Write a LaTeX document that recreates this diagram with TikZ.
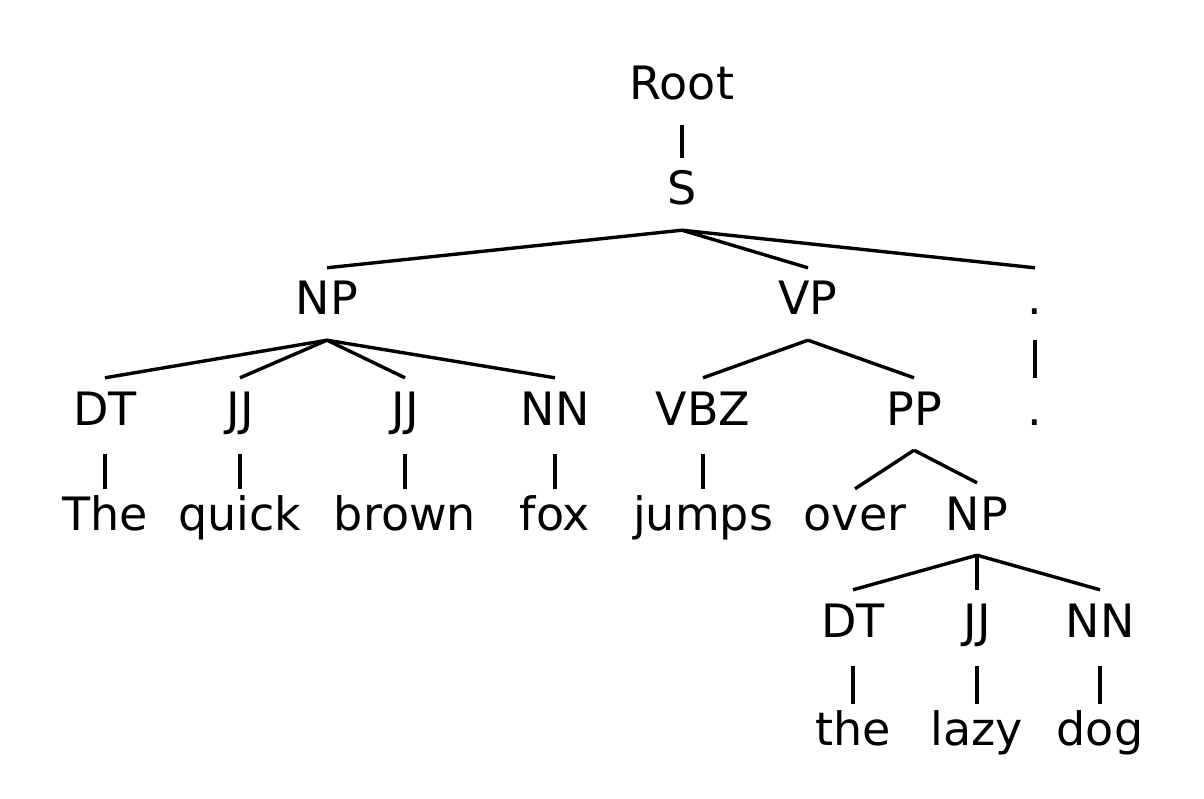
\documentclass[tikz,border=0pt]{standalone}
\usepackage{fontspec}
\setmainfont{DejaVu Sans}
\begin{document}
\begin{tikzpicture}[x=1pt,y=-1pt,
  lbl/.style={font=\fontsize{46}{55}\selectfont, anchor=base, inner xsep=0pt,
    text height=33pt, text depth=11pt, inner ysep=14pt},
  cat/.style={lbl},
  word/.style={lbl, inner ysep=8pt},
  edge/.style={line width=3.4pt},
  bar/.style={line width=3.4pt, shorten <=4pt}]
\fill[white] (0,0) rectangle (1204,799);
\useasboundingbox (0,0) rectangle (1204,799);
% nodes
\node[cat] (root) at (682,100) {Root};
\node[cat] (S) at (682,205) {S};
\node[cat] (NP) at (327,315) {NP};
\node[cat] (VP) at (808,315) {VP};
\node[cat] (dot1) at (1035,315) {.};
\node[cat] (DT) at (105,425) {DT};
\node[cat] (JJa) at (240,425) {JJ};
\node[cat] (JJb) at (405,425) {JJ};
\node[cat] (NN) at (555,425) {NN};
\node[cat] (VBZ) at (703,425) {VBZ};
\node[cat] (PP) at (914,425) {PP};
\node[cat] (dot2) at (1035,425) {.};
\node[word] (w1) at (105,530) {The};
\node[word] (w2) at (240,530) {quick};
\node[word] (w3) at (405,530) {brown};
\node[word] (w4) at (555,530) {fox};
\node[word] (w5) at (703,530) {jumps};
\node[word] (w6) at (855,530) {over};
\node[cat] (NP2) at (977,530) {NP};
\node[cat] (DT2) at (853,637) {DT};
\node[cat] (JJ2) at (977,637) {JJ};
\node[cat] (NN2) at (1100,637) {NN};
\node[word] (w7) at (853,745) {the};
\node[word] (w8) at (977,745) {lazy};
\node[word] (w9) at (1100,745) {dog};
% connectors
\draw[edge] (root.south) -- (S.north);
\draw[edge] (S.south) -- (NP.north);
\draw[edge] (S.south) -- (VP.north);
\draw[edge] (S.south) -- (dot1.north);
\draw[edge] (dot1.south) -- (dot2.north);
\draw[edge] (NP.south) -- (DT.north);
\draw[edge] (NP.south) -- (JJa.north);
\draw[edge] (NP.south) -- (JJb.north);
\draw[edge] (NP.south) -- (NN.north);
\draw[edge] (VP.south) -- (VBZ.north);
\draw[edge] (VP.south) -- (PP.north);
\draw[bar] (DT.south) -- (w1.north);
\draw[bar] (JJa.south) -- (w2.north);
\draw[bar] (JJb.south) -- (w3.north);
\draw[bar] (NN.south) -- (w4.north);
\draw[bar] (VBZ.south) -- (w5.north);
\draw[edge] (PP.south) -- (w6.north);
\draw[edge] (PP.south) -- (NP2.north);
\draw[edge] (NP2.south) -- (DT2.north);
\draw[edge] (NP2.south) -- (JJ2.north);
\draw[edge] (NP2.south) -- (NN2.north);
\draw[bar] (DT2.south) -- (w7.north);
\draw[bar] (JJ2.south) -- (w8.north);
\draw[bar] (NN2.south) -- (w9.north);
\end{tikzpicture}
\end{document}
